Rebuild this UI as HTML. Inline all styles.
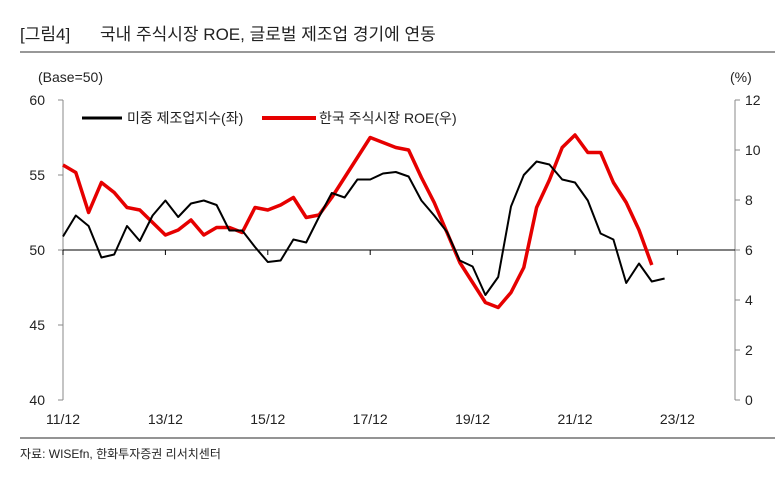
<!DOCTYPE html>
<html><head><meta charset="utf-8"><style>
body{margin:0;background:#fff;}
svg text{font-family:"Liberation Sans","Noto Sans CJK KR",sans-serif;}
</style></head><body>
<svg id="c" width="780" height="480" viewBox="0 0 780 480">
<text x="20" y="40" font-size="17" fill="#222">[그림4]</text>
<text x="100" y="40" font-size="17" fill="#222">국내 주식시장 ROE, 글로벌 제조업 경기에 연동</text>
<line x1="20" y1="52" x2="775" y2="52" stroke="#777" stroke-width="1.5"/>
<text x="38" y="82" font-size="14" fill="#222">(Base=50)</text>
<text x="730" y="82" font-size="14" fill="#222">(%)</text>
<g id="axes"></g>
<g id="series"></g>
<g>
<line x1="82" y1="118" x2="122" y2="118" stroke="#000" stroke-width="3"/>
<text x="127" y="123" font-size="14" fill="#222">미중 제조업지수(좌)</text>
<line x1="262" y1="118" x2="316" y2="118" stroke="#e60000" stroke-width="4"/>
<text x="319" y="123" font-size="14" fill="#222">한국 주식시장 ROE(우)</text>
</g>
<line x1="20" y1="438" x2="775" y2="438" stroke="#555" stroke-width="1.2"/>
<text x="20" y="458" font-size="12" fill="#222">자료: WISEfn, 한화투자증권 리서치센터</text>
</svg>
<script>
const xLabels=["11/12","13/12","15/12","17/12","19/12","21/12","23/12"];
const leftTicks=[40,45,50,55,60];
const rightTicks=[0,2,4,6,8,10,12];
const pmi=[50.9,52.3,51.6,49.5,49.7,51.6,50.6,52.3,53.3,52.2,53.1,53.3,53,51.3,51.3,50.2,49.2,49.3,50.7,50.5,52.2,53.8,53.5,54.7,54.7,55.1,55.2,54.9,53.3,52.3,51.2,49.3,48.9,47,48.2,52.9,55,55.9,55.7,54.7,54.5,53.3,51.1,50.7,47.8,49.1,47.9,48.1];
const roe=[9.4,9.1,7.5,8.7,8.3,7.7,7.6,7.1,6.6,6.8,7.2,6.6,6.9,6.9,6.7,7.7,7.6,7.8,8.1,7.3,7.4,8.1,8.9,9.7,10.5,10.3,10.1,10.0,8.9,7.9,6.7,5.5,4.7,3.9,3.7,4.3,5.3,7.7,8.8,10.1,10.6,9.9,9.9,8.7,7.9,6.8,5.4];
const X0=63,DX=12.8,YT=100,YB=400;
const x=i=>X0+i*DX;
const yL=v=>YB-(v-40)/20*(YB-YT);
const yR=v=>YB-v/12*(YB-YT);
const NS="http://www.w3.org/2000/svg";
const ax=document.getElementById('axes'),se=document.getElementById('series');
function mk(tag,at,parent){const e=document.createElementNS(NS,tag);for(const k in at)e.setAttribute(k,at[k]);parent.appendChild(e);return e;}
let e;
e=mk('line',{x1:X0,y1:YT,x2:X0,y2:YB,stroke:'#888','stroke-width':1},ax);


e=mk('line',{x1:735,y1:YT,x2:735,y2:YB,stroke:'#888','stroke-width':1},ax);


e=mk('line',{x1:X0,y1:yL(50),x2:740,y2:yL(50),stroke:'#000','stroke-width':1},ax);


leftTicks.forEach(v=>{
 e=mk('line',{x1:X0-5,y1:yL(v),x2:X0,y2:yL(v),stroke:'#888'},ax);
 
 
 e=mk('text',{x:45,y:yL(v)+5,'font-size':14,'text-anchor':'end',fill:'#222'},ax);e.textContent=v;
 
 
});
rightTicks.forEach(v=>{
 e=mk('line',{x1:735,y1:yR(v),x2:740,y2:yR(v),stroke:'#888'},ax);
 
 
 e=mk('text',{x:745,y:yR(v)+5,'font-size':14,fill:'#222'},ax);e.textContent=v;
 
 
});
xLabels.forEach((l,i)=>{
 const xx=x(i*8);
 e=mk('line',{x1:xx,y1:yL(50),x2:xx,y2:yL(50)+5,stroke:'#000'},ax);
 
 
 e=mk('text',{x:xx,y:424,'font-size':14,'text-anchor':'middle',fill:'#222'},ax);e.textContent=l;
 
 
});
e=mk('polyline',{points:roe.map((v,i)=>x(i)+','+yR(v)).join(' '),fill:'none',stroke:'#e60000','stroke-width':3.5,'stroke-linejoin':'round'},se);


e=mk('polyline',{points:pmi.map((v,i)=>x(i)+','+yL(v)).join(' '),fill:'none',stroke:'#000','stroke-width':2,'stroke-linejoin':'round'},se);


</script>
</body></html>
